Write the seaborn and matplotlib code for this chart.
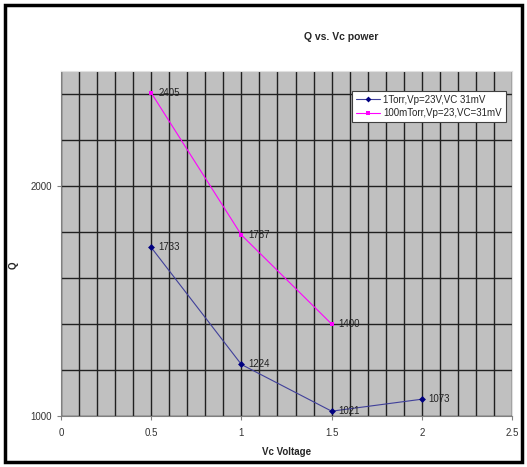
import matplotlib
matplotlib.use("Agg")
import matplotlib.pyplot as plt
from matplotlib.ticker import MultipleLocator
from matplotlib.patches import Rectangle
import seaborn as sns
import pandas as pd

# Series data
vc_1torr = [0.5, 1.0, 1.5, 2.0]
q_1torr = [1733, 1224, 1021, 1073]
vc_100mtorr = [0.5, 1.0, 1.5]
q_100mtorr = [2405, 1787, 1400]
label_1torr = "1Torr,Vp=23V,VC 31mV"
label_100mtorr = "100mTorr,Vp=23,VC=31mV"

df = pd.concat([
    pd.DataFrame({"Vc": vc_1torr, "Q": q_1torr, "series": label_1torr}),
    pd.DataFrame({"Vc": vc_100mtorr, "Q": q_100mtorr, "series": label_100mtorr}),
])

sns.set_style("white")
plt.rcParams["font.family"] = ["Liberation Sans", "DejaVu Sans"]

fig = plt.figure(figsize=(5.27, 4.67), dpi=100)
ax = fig.add_axes([61 / 527, 51 / 467, 451 / 527, 345 / 467])
ax.set_facecolor("#C0C0C0")

palette = {label_1torr: "#000080", label_100mtorr: "#FF00FF"}
markers = {label_1torr: "D", label_100mtorr: "s"}
sns.lineplot(data=df, x="Vc", y="Q", hue="series", style="series",
             palette=palette, markers=markers, dashes=False,
             markersize=3.5, linewidth=0.8, markeredgewidth=0, ax=ax,
             legend=False)

# Line colour slightly lighter than markers for the navy series
ax.lines[0].set_color("#40409A")
ax.lines[0].set_markerfacecolor("#000080")
ax.lines[0].set_markeredgecolor("#000080")

for x, y in zip(vc_1torr, q_1torr):
    ax.annotate(str(y), (x, y), xytext=(5, 0), textcoords="offset points",
                va="center", ha="left", fontsize=7, color="#222222")
for x, y in zip(vc_100mtorr, q_100mtorr):
    ax.annotate(str(y), (x, y), xytext=(5, 0), textcoords="offset points",
                va="center", ha="left", fontsize=7, color="#222222")

ax.set_xlim(0, 2.5)
ax.set_ylim(1000, 2500)
ax.xaxis.set_major_locator(MultipleLocator(0.5))
ax.xaxis.set_minor_locator(MultipleLocator(0.1))
ax.yaxis.set_major_locator(MultipleLocator(1000))
ax.yaxis.set_minor_locator(MultipleLocator(200))
ax.set_xticks([0, 0.5, 1, 1.5, 2, 2.5])
ax.set_xticklabels(["0", "0.5", "1", "1.5", "2", "2.5"])
ax.grid(which="both", axis="both", color="#202020", linewidth=1.0)
ax.set_axisbelow(True)
ax.tick_params(axis="both", which="major", labelsize=7, length=3,
               direction="out", color="#808080", bottom=True, left=True,
               labelcolor="#333333")
ax.tick_params(axis="x", which="major", pad=6)
ax.tick_params(which="minor", length=0)
for s in ["top", "right"]:
    ax.spines[s].set_color("#E0E0E0")
    ax.spines[s].set_linewidth(0.8)
for s in ["left", "bottom"]:
    ax.spines[s].set_color("#808080")
    ax.spines[s].set_linewidth(0.8)

ax.set_xlabel("Vc Voltage", fontsize=7, fontweight="bold")
ax.xaxis.set_label_coords(287 / 527, 1 - 447 / 467, transform=fig.transFigure)
ax.set_ylabel("Q", fontsize=7, fontweight="bold")
ax.yaxis.set_label_coords(19 / 527, 1 - 265 / 467, transform=fig.transFigure)

fig.text(341 / 527, 1 - 37 / 467, "Q vs. Vc power", ha="center", va="center",
         fontsize=7.5, fontweight="bold")

leg_handles = [
    plt.Line2D([], [], color="#40409A", marker="D", markersize=3,
               markerfacecolor="#000080", markeredgewidth=0, linewidth=0.8),
    plt.Line2D([], [], color="#FF00FF", marker="s", markersize=3.5,
               markeredgewidth=0, linewidth=0.8),
]
leg = ax.legend(leg_handles, [label_1torr, label_100mtorr],
                loc="upper left", bbox_to_anchor=(352 / 527, 1 - 91 / 467),
                bbox_transform=fig.transFigure, fontsize=7, frameon=True,
                fancybox=False, edgecolor="#404040", framealpha=1,
                handlelength=2.5, handletextpad=0.3, borderpad=0.4,
                labelspacing=0.35, borderaxespad=0)
leg.get_frame().set_linewidth(0.8)

# Outer chart frame
fig.patches.append(Rectangle((5 / 527, 5 / 467), 517 / 527, 457 / 467,
                             transform=fig.transFigure, fill=False,
                             edgecolor="black", linewidth=2.5))

fig.savefig("out.png", dpi=100)
